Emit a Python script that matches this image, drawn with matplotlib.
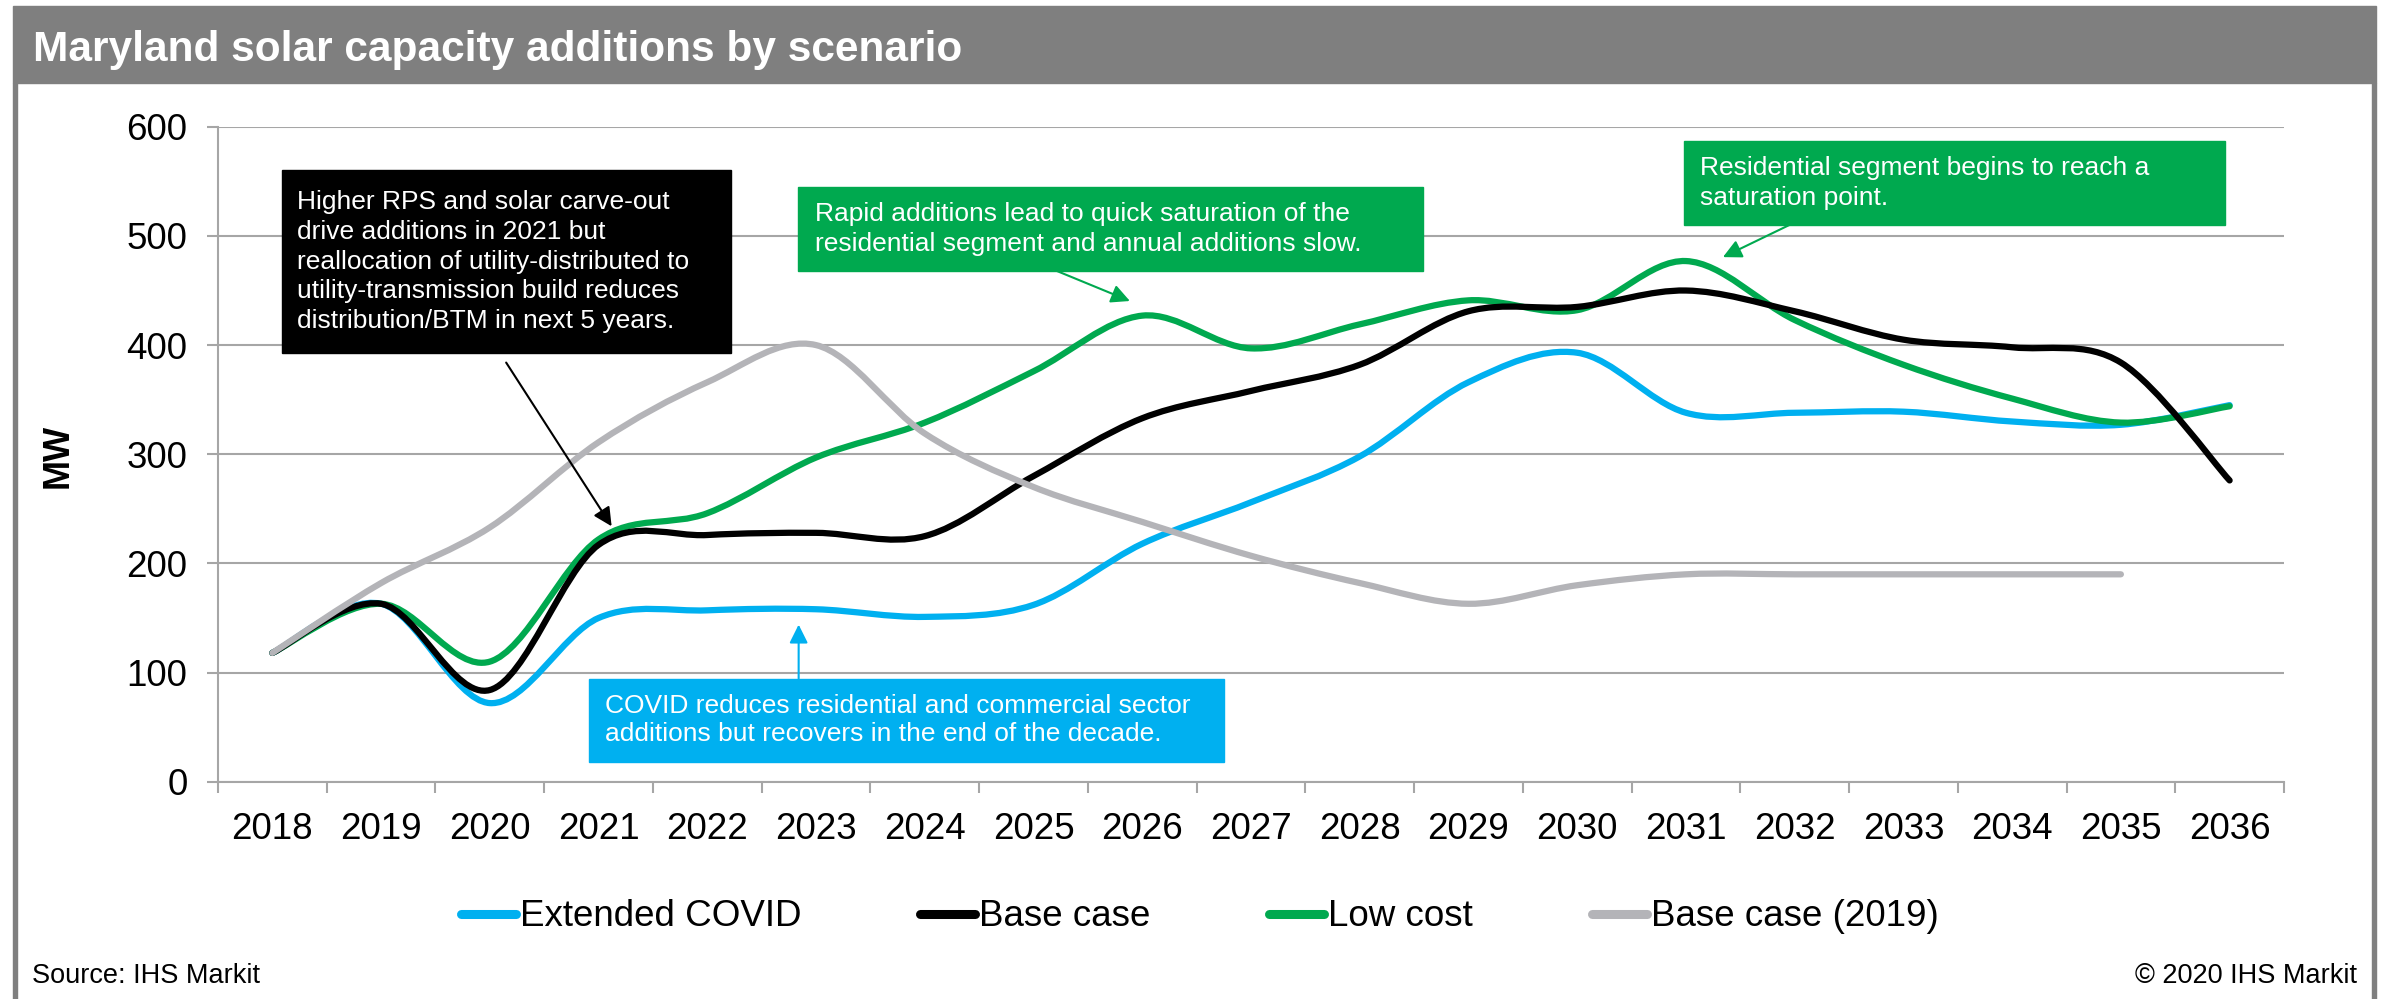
import numpy as np
import matplotlib
matplotlib.use('Agg')
from matplotlib import pyplot as plt
from matplotlib.path import Path
from matplotlib.patches import PathPatch, Rectangle
from matplotlib.lines import Line2D

plt.rcParams['font.family'] = ['Liberation Sans', 'DejaVu Sans']

# --------------- Daten (MW Zubau pro Jahr) ---------------
jahre = [str(j) for j in range(2018, 2037)]
extended_covid = [118, 163, 72, 150, 157, 158, 151, 162, 218, 256, 298, 366, 393, 338, 338, 339, 330, 327, 345]
base_case = [118, 163, 84, 217, 226, 228, 225, 280, 333, 358, 382, 431, 435, 450, 431, 405, 398, 384, 276]
low_cost = [118, 163, 110, 222, 246, 297, 329, 376, 427, 397, 419, 441, 432, 477, 423, 382, 351, 329, 344]
base_case_2019 = [118, 182, 233, 311, 366, 400, 319, 270, 238, 207, 182, 163, 180, 190, 190, 190, 190, 190]

BLAU = '#00B0F0'
SCHWARZ = '#000000'
GRUEN = '#00A94F'
GRAU = '#B4B4B8'
RAHMEN = '#7F7F7F'
GITTER = '#A6A6A6'


def glatteKurve(xs, ys):
    """Bezier-Pfad durch alle Punkte (wie 'geglaettete Linie' in Excel)"""
    pts = np.column_stack([xs, ys]).astype(float)
    n = len(pts)
    verts = [pts[0]]
    codes = [Path.MOVETO]
    for i in range(n - 1):
        p0 = pts[i - 1] if i > 0 else pts[i]
        p1 = pts[i]
        p2 = pts[i + 1]
        p3 = pts[i + 2] if i + 2 < n else pts[i + 1]
        verts += [p1 + (p2 - p0) / 6, p2 - (p3 - p1) / 6, p2]
        codes += [Path.CURVE4] * 3
    return Path(verts, codes)


W, H = 2385, 999
fig = plt.figure(figsize=(W / 100, H / 100), dpi=100)

# Titelbalken und Rahmen
fig.patches.append(Rectangle((13 / W, 1 - 82.7 / H), (2376 - 13) / W, 77 / H,
                             transform=fig.transFigure, color=RAHMEN, zorder=0))
fig.patches.append(Rectangle((13 / W, 0), 4 / W, 1 - 82.7 / H,
                             transform=fig.transFigure, color=RAHMEN, zorder=0))
fig.patches.append(Rectangle((2372 / W, 0), 4 / W, 1 - 82.7 / H,
                             transform=fig.transFigure, color=RAHMEN, zorder=0))
fig.text(33 / W, 1 - 61 / H, 'Maryland solar capacity additions by scenario',
         color='white', fontsize=30.5, fontweight='bold', va='baseline', ha='left')

ax = fig.add_axes([218 / W, 1 - 781.7 / H, (2284 - 218) / W, (781.7 - 126.8) / H])

x = np.arange(len(jahre))
for werte, farbe in [(extended_covid, BLAU), (low_cost, GRUEN),
                     (base_case, SCHWARZ), (base_case_2019, GRAU)]:
    ax.add_patch(PathPatch(glatteKurve(x[:len(werte)], werte), facecolor='none',
                           edgecolor=farbe, lw=4.5, capstyle='round',
                           joinstyle='round', zorder=3))

# Achsen
ax.set_xlim(-0.5, len(jahre) - 0.5)
ax.set_ylim(0, 600)
ax.set_yticks(np.arange(0, 601, 100))
ax.set_xticks(x)
ax.set_xticklabels(jahre)
ax.set_xticks(np.arange(-0.5, len(jahre), 1), minor=True)
ax.tick_params(axis='x', which='major', length=0, labelsize=26.5, pad=22)
ax.tick_params(axis='x', which='minor', length=8, width=1.5, color=GITTER)
ax.tick_params(axis='y', length=8, width=1.5, color=GITTER, labelsize=26.5, pad=14)
ax.grid(axis='y', color=GITTER, lw=1.5, zorder=0)
ax.set_axisbelow(True)
for s in ['top', 'right']:
    ax.spines[s].set_visible(False)
for s in ['left', 'bottom']:
    ax.spines[s].set_color(GITTER)
    ax.spines[s].set_linewidth(1.5)

fig.text(58.5 / W, 1 - 456 / H, 'MW', rotation=90, fontsize=26, fontweight='bold',
         ha='center', va='center')

# Kommentarboxen
boxen = [
    ((0.088, 392.7), 4.129, 167.3, SCHWARZ, 0.226, 1.3,
     'Higher RPS and solar carve-out\ndrive additions in 2021 but\nreallocation of utility-distributed to\n'
     'utility-transmission build reduces\ndistribution/BTM in next 5 years.'),
    ((4.833, 467.7), 5.747, 77.1, GRUEN, 4.99, 1.3,
     'Rapid additions lead to quick saturation of the\nresidential segment and annual additions slow.'),
    ((12.98, 509.9), 4.98, 77.0, GRUEN, 13.13, 1.3,
     'Residential segment begins to reach a\nsaturation point.'),
    ((2.91, 18.4), 5.84, 76.1, BLAU, 3.055, 1.23,
     'COVID reduces residential and commercial sector\nadditions but recovers in the end of the decade.'),
]
for (x0, y0), bw, bh, farbe, xt, zeilenabstand, text in boxen:
    ax.add_patch(Rectangle((x0, y0), bw, bh, color=farbe, zorder=5, clip_on=False))
    ax.text(xt, y0 + bh / 2, text, color='white', fontsize=19, ha='left', va='center',
            linespacing=zeilenabstand, zorder=6)

pfeile = [
    ((2.15, 384), (3.12, 234), SCHWARZ),
    ((7.215, 467.9), (7.886, 440.4), GRUEN),
    ((13.95, 510), (13.34, 480.6), GRUEN),
    ((4.84, 94.5), (4.84, 143.9), BLAU),
]
for start, ziel, farbe in pfeile:
    ax.annotate('', xy=ziel, xytext=start,
                arrowprops=dict(arrowstyle='-|>', color=farbe, lw=1.5,
                                mutation_scale=28, shrinkA=0, shrinkB=0),
                zorder=6)

# Legende
handles = [Line2D([], [], color=c, lw=6.5, solid_capstyle='round')
           for c in [BLAU, SCHWARZ, GRUEN, GRAU]]
fig.legend(handles, ['Extended COVID', 'Base case', 'Low cost', 'Base case (2019)'],
           loc='center', bbox_to_anchor=(0.503, 1 - 917 / H), ncol=4, frameon=False,
           fontsize=26.5, handlelength=1.5, handletextpad=0.1, columnspacing=3.23)

fig.text(32 / W, 1 - 983 / H, 'Source: IHS Markit', fontsize=19.5, va='baseline', ha='left')
fig.text(2357 / W, 1 - 983 / H, '\u00a9 2020 IHS Markit', fontsize=19.5, va='baseline', ha='right')

plt.savefig('out.png', dpi=100)
